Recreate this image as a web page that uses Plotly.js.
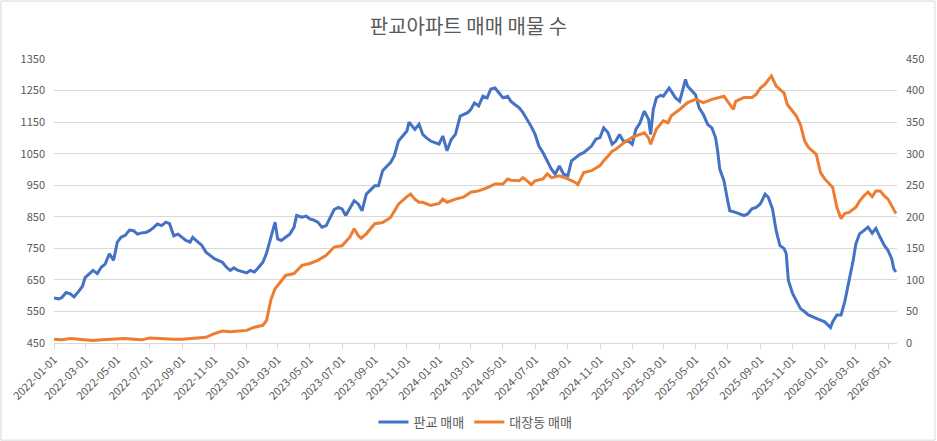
<!DOCTYPE html>
<html>
<head>
<meta charset="utf-8">
<script src="https://cdn.plot.ly/plotly-3.0.1.min.js"></script>
<style>
  html, body { margin: 0; padding: 0; background: #fff; }
  #chart { width: 937px; height: 441px; }
</style>
</head>
<body>
<div id="chart"></div>
<script>
// 판교 매매 매물 수 (left axis)
const pangyoDates = [
  "2022-01-01","2022-01-10","2022-01-16","2022-01-24","2022-02-01","2022-02-08","2022-02-16","2022-02-24",
  "2022-03-01","2022-03-08","2022-03-16","2022-03-24","2022-04-01","2022-04-08","2022-04-16","2022-04-24",
  "2022-05-01","2022-05-08","2022-05-16","2022-05-24","2022-06-01","2022-06-08","2022-06-16","2022-06-24",
  "2022-07-01","2022-07-08","2022-07-16","2022-07-24","2022-08-01","2022-08-08","2022-08-16","2022-08-24",
  "2022-09-01","2022-09-08","2022-09-16","2022-09-21","2022-10-01","2022-10-08","2022-10-16","2022-10-24",
  "2022-11-01","2022-11-08","2022-11-16","2022-11-24","2022-12-01","2022-12-08","2022-12-16","2022-12-24",
  "2023-01-01","2023-01-08","2023-01-16","2023-01-24","2023-02-01","2023-02-08","2023-02-16","2023-02-24",
  "2023-03-01","2023-03-08","2023-03-16","2023-03-24","2023-04-01","2023-04-06","2023-04-16","2023-04-24",
  "2023-05-01","2023-05-08","2023-05-16","2023-05-24","2023-06-01","2023-06-08","2023-06-16","2023-06-24",
  "2023-07-01","2023-07-08","2023-07-16","2023-07-24","2023-08-01","2023-08-08","2023-08-16","2023-08-24",
  "2023-09-01","2023-09-08","2023-09-16","2023-09-24","2023-10-01","2023-10-08","2023-10-16","2023-10-24",
  "2023-11-01","2023-11-05","2023-11-16","2023-11-24","2023-12-01","2023-12-08","2023-12-16","2023-12-24",
  "2024-01-01","2024-01-08","2024-01-16","2024-01-24","2024-02-01","2024-02-10","2024-02-16","2024-02-24",
  "2024-03-01","2024-03-08","2024-03-16","2024-03-24","2024-04-01","2024-04-08","2024-04-16","2024-04-24",
  "2024-05-01","2024-05-10","2024-05-16","2024-05-24","2024-06-01","2024-06-08","2024-06-16","2024-06-24",
  "2024-07-01","2024-07-08","2024-07-16","2024-07-24","2024-08-01","2024-08-08","2024-08-16","2024-08-24",
  "2024-09-01","2024-09-08","2024-09-16","2024-09-24","2024-10-01","2024-10-08","2024-10-16","2024-10-24",
  "2024-11-01","2024-11-08","2024-11-16","2024-11-24","2024-12-01","2024-12-08","2024-12-16","2024-12-24",
  "2025-01-01","2025-01-08","2025-01-16","2025-01-24","2025-02-01","2025-02-05","2025-02-10","2025-02-16",
  "2025-02-24","2025-03-01","2025-03-12","2025-03-16","2025-03-24","2025-04-01","2025-04-12","2025-04-16",
  "2025-04-24","2025-05-01","2025-05-08","2025-05-16","2025-05-24","2025-06-01","2025-06-08","2025-06-12",
  "2025-06-16","2025-06-24","2025-07-01","2025-07-05","2025-07-16","2025-07-24","2025-08-01","2025-08-08",
  "2025-08-16","2025-08-24","2025-09-01","2025-09-10","2025-09-16","2025-09-24","2025-10-01","2025-10-08",
  "2025-10-16","2025-10-20","2025-10-24","2025-11-01","2025-11-08","2025-11-16","2025-11-24","2025-12-01",
  "2025-12-16","2025-12-24","2026-01-01","2026-01-12","2026-01-16","2026-01-24","2026-02-01","2026-02-08",
  "2026-02-16","2026-02-24","2026-03-01","2026-03-08","2026-03-16","2026-03-24","2026-04-01","2026-04-08",
  "2026-04-16","2026-04-24","2026-05-01","2026-05-08","2026-05-12","2026-05-16"
];
const pangyoValues = [
  593, 590, 594, 610, 606, 596, 612, 630,
  657, 668, 680, 670, 691, 700, 733, 712,
  770, 785, 791, 808, 806, 795, 799, 800,
  806, 815, 827, 822, 833, 828, 790, 795,
  785, 775, 770, 785, 770, 760, 738, 728,
  717, 712, 706, 690, 680, 688, 680, 676,
  672, 680, 675, 690, 706, 735, 780, 833,
  780, 775, 785, 795, 817, 854, 849, 852,
  843, 840, 833, 817, 822, 845, 873, 880,
  875, 854, 880, 901, 890, 869, 922, 935,
  948, 948, 996, 1010, 1022, 1043, 1090, 1106,
  1122, 1150, 1127, 1143, 1111, 1100, 1090, 1085,
  1080, 1106, 1059, 1095, 1111, 1169, 1174, 1180,
  1190, 1211, 1201, 1232, 1227, 1255, 1258, 1243,
  1227, 1232, 1216, 1205, 1195, 1180, 1159, 1135,
  1111, 1075, 1053, 1025, 1001, 985, 1011, 985,
  980, 1027, 1038, 1048, 1053, 1064, 1074, 1096,
  1101, 1132, 1117, 1080, 1090, 1111, 1088, 1092,
  1080, 1127, 1148, 1185, 1159, 1111, 1190, 1227,
  1235, 1232, 1258, 1248, 1227, 1216, 1285, 1264,
  1250, 1237, 1195, 1174, 1143, 1132, 1101, 1059,
  1001, 964, 901, 869, 864, 860, 854, 859,
  875, 880, 891, 922, 912, 875, 806, 759,
  749, 733, 649, 607, 586, 559, 549, 539,
  528, 523, 517, 499, 517, 539, 539, 581,
  644, 712, 764, 796, 806, 817, 798, 813,
  785, 759, 743, 717, 685, 675
];

// 대장동 매매 매물 수 (right axis)
const daejangDates = [
  "2022-01-01","2022-01-16","2022-02-01","2022-02-16","2022-03-01","2022-03-16","2022-04-01","2022-04-16",
  "2022-05-01","2022-05-16","2022-06-01","2022-06-16","2022-07-01","2022-07-16","2022-08-01","2022-08-16",
  "2022-09-01","2022-09-16","2022-10-01","2022-10-16","2022-11-01","2022-11-16","2022-12-01","2022-12-16",
  "2023-01-01","2023-01-16","2023-02-01","2023-02-08","2023-02-16","2023-02-24","2023-03-01","2023-03-16",
  "2023-04-01","2023-04-16","2023-05-01","2023-05-16","2023-06-01","2023-06-16","2023-07-01","2023-07-16",
  "2023-07-24","2023-08-01","2023-08-06","2023-08-16","2023-09-01","2023-09-16","2023-10-01","2023-10-16",
  "2023-11-01","2023-11-08","2023-11-16","2023-11-24","2023-12-01","2023-12-16","2024-01-01","2024-01-08",
  "2024-01-16","2024-02-01","2024-02-16","2024-03-01","2024-03-16","2024-04-01","2024-04-16","2024-05-01",
  "2024-05-10","2024-05-16","2024-06-01","2024-06-08","2024-06-16","2024-06-24","2024-07-01","2024-07-16",
  "2024-07-24","2024-08-01","2024-08-16","2024-09-01","2024-09-16","2024-09-20","2024-10-01","2024-10-16",
  "2024-11-01","2024-11-08","2024-11-16","2024-11-24","2024-12-01","2024-12-08","2024-12-16","2025-01-01",
  "2025-01-16","2025-01-24","2025-02-01","2025-02-05","2025-02-16","2025-03-01","2025-03-10","2025-03-16",
  "2025-04-01","2025-04-16","2025-05-01","2025-05-16","2025-06-01","2025-06-16","2025-06-24","2025-07-01",
  "2025-07-12","2025-07-16","2025-08-01","2025-08-16","2025-08-24","2025-09-01","2025-09-10","2025-09-16",
  "2025-09-22","2025-10-01","2025-10-16","2025-10-22","2025-11-01","2025-11-08","2025-11-16","2025-11-24",
  "2025-12-01","2025-12-12","2025-12-16","2025-12-24","2026-01-01","2026-01-10","2026-01-16","2026-01-24",
  "2026-02-01","2026-02-08","2026-02-16","2026-03-01","2026-03-08","2026-03-16","2026-03-24","2026-04-01",
  "2026-04-08","2026-04-16","2026-04-24","2026-05-01","2026-05-08","2026-05-16"
];
const daejangValues = [
  6, 5, 7, 6, 4, 4, 5, 6,
  6, 7, 6, 5, 8, 7, 7, 6,
  6, 7, 9, 9, 15, 19, 18, 19,
  20, 25, 28, 36, 68, 86, 91, 107,
  110, 123, 126, 131, 139, 152, 154, 168,
  181, 170, 166, 173, 189, 191, 199, 220,
  232, 236, 228, 223, 223, 218, 221, 228,
  223, 228, 231, 239, 241, 246, 252, 252,
  260, 258, 257, 262, 257, 251, 257, 260,
  268, 262, 265, 260, 254, 251, 270, 273,
  281, 289, 296, 304, 307, 312, 317, 326,
  331, 333, 325, 315, 339, 352, 349, 360,
  370, 381, 386, 381, 386, 389, 391, 383,
  370, 383, 389, 389, 394, 404, 410, 417,
  423, 407, 396, 378, 367, 360, 346, 320,
  310, 302, 299, 270, 260, 252, 247, 215,
  197, 205, 207, 215, 225, 233, 239, 232,
  241, 241, 233, 228, 218, 205
];

const leftTicks = [450, 550, 650, 750, 850, 950, 1050, 1150, 1250, 1350];
const rightTicks = [0, 50, 100, 150, 200, 250, 300, 350, 400, 450];

const FONT = '"Noto Sans CJK KR", "Noto Sans", sans-serif';
const GRAY = "#595959";
const GRID = "#d9d9d9";

const traces = [
  {
    x: pangyoDates,
    y: pangyoValues,
    name: "판교 매매",
    type: "scatter",
    mode: "lines",
    line: { color: "#4472C4", width: 3 },
    yaxis: "y"
  },
  {
    x: daejangDates,
    y: daejangValues,
    name: "대장동 매매",
    type: "scatter",
    mode: "lines",
    line: { color: "#ED7D31", width: 3 },
    yaxis: "y2"
  }
];

const layout = {
  width: 937,
  height: 441,
  margin: { l: 54, r: 40, t: 59, b: 98 },
  paper_bgcolor: "#ffffff",
  plot_bgcolor: "#ffffff",
  font: { family: FONT, size: 11, color: GRAY },
  title: {
    text: "판교아파트 매매 매물 수",
    font: { family: FONT, size: 20, color: GRAY },
    x: 0.5,
    xanchor: "center",
    yref: "container",
    y: 0.938,
    yanchor: "middle"
  },
  showlegend: true,
  legend: {
    orientation: "h",
    x: 0.5,
    xanchor: "center",
    yref: "container",
    y: 0.043,
    yanchor: "middle",
    font: { family: FONT, size: 13, color: GRAY },
    itemwidth: 30
  },
  xaxis: {
    type: "date",
    range: ["2022-01-01", "2026-05-18"],
    tick0: "2022-01-01",
    dtick: "M2",
    tickformat: "%Y-%m-%d",
    tickangle: -45,
    ticks: "outside",
    ticklen: 5,
    tickcolor: GRID,
    showline: true,
    linecolor: GRID,
    showgrid: false,
    zeroline: false,
    tickfont: { family: FONT, size: 11, color: GRAY }
  },
  yaxis: {
    range: [450, 1350],
    tickvals: leftTicks,
    showgrid: true,
    gridcolor: GRID,
    zeroline: false,
    showline: false,
    ticks: "",
    ticklabelstandoff: 8,
    tickfont: { family: FONT, size: 11, color: GRAY }
  },
  yaxis2: {
    range: [0, 450],
    tickvals: rightTicks,
    overlaying: "y",
    side: "right",
    showgrid: false,
    zeroline: false,
    showline: false,
    ticks: "",
    ticklabelstandoff: 8,
    tickfont: { family: FONT, size: 11, color: GRAY }
  },
  shapes: [
    {
      type: "rect",
      xref: "paper",
      yref: "paper",
      x0: -0.063,
      x1: 1.045,
      y0: -0.342,
      y1: 1.204,
      line: { color: GRID, width: 1 },
      fillcolor: "rgba(0,0,0,0)",
      layer: "below"
    }
  ]
};

Plotly.newPlot("chart", traces, layout, { displayModeBar: false, staticPlot: true });
</script>
</body>
</html>
